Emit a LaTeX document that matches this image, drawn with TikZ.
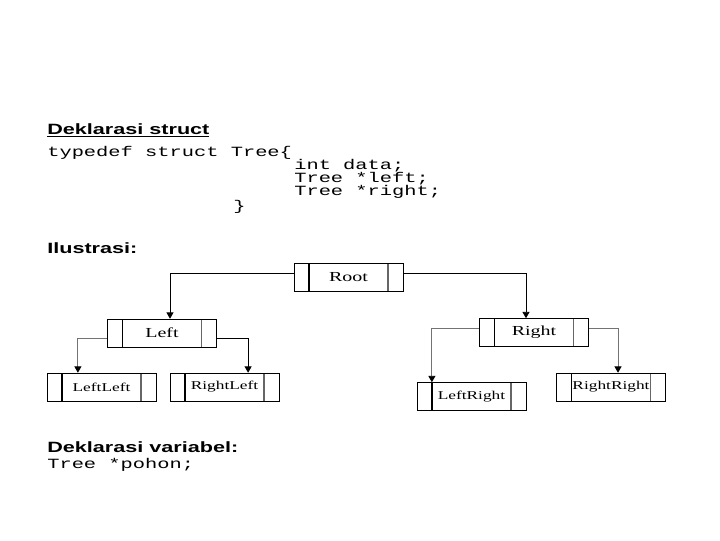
\documentclass[tikz,border=0pt]{standalone}
\usepackage{fontspec}
\setmainfont{Liberation Serif}[FakeStretch=1.45]
\newfontfamily\headfont{Liberation Sans}[FakeStretch=1.45]
\newfontfamily\codefont{Liberation Mono}[FakeStretch=1.45]
\usetikzlibrary{arrows.meta}

\begin{document}
\begin{tikzpicture}[x=0.025cm,y=-0.025cm]

\def\boxw{2.725}
\def\boxh{0.7}
\def\cell{0.375} % <-- width of the pointer cells

\tikzset{
    treebox/.style={
        draw,
        minimum width=\boxw cm,
        minimum height=\boxh cm,
        inner sep=0pt,
        font=\fontsize{9.8}{10}\selectfont,
        path picture={
            \draw[line width=0.9pt]
                ([xshift=\cell cm]path picture bounding box.north west)
                -- ([xshift=\cell cm]path picture bounding box.south west);
            \draw[line width=1.3pt, black!60]
                ([xshift=-\cell cm]path picture bounding box.north east)
                -- ([xshift=-\cell cm]path picture bounding box.south east);
        }
    },
    leafbox/.style={treebox, font=\fontsize{8.5}{9}\selectfont},
    heading/.style={anchor=base west, inner sep=0pt,
        font=\headfont\bfseries\fontsize{10.6}{12}\selectfont},
    codeline/.style={anchor=base west, inner sep=0pt,
        font=\codefont\fontsize{10}{12}\selectfont},
    link/.style={-{Triangle[width=5pt,length=4.5pt,color=black]}, line width=0.6pt},
    greylink/.style={link, draw=black!55}
}

\useasboundingbox (0,0) rectangle (720,540);

% Struct declaration
\node[heading] (hstruct) at (47,134) {\underline{Deklarasi struct}};

\foreach \n/\x/\y/\txt in {c1/47/156/typedef struct Tree\{,
                           c2/294/169/int data;,
                           c3/294/182/Tree *left;,
                           c4/294/195/Tree *right;,
                           c5/233/210/\}}{
    \node[codeline] (\n) at (\x,\y) {\txt};
}

% Illustration
\node[heading] (hillus) at (47,253) {Ilustrasi:};

\node[treebox] (root) at (348.5,277) {Root};

\foreach \n/\x/\y/\txt in {left/162/333/Left, right/534/332.5/Right}{
    \node[treebox] (\n) at (\x,\y) {\txt};
}

\foreach \n/\x/\y/\txt in {leftleft/101.5/387/LeftLeft,
                           rightleft/224.5/387/RightLeft,
                           leftright/471.5/396.5/LeftRight,
                           rightright/611/387/RightRight}{
    \node[leafbox] (\n) at (\x,\y) {\txt};
}

% Pointers
\draw[link] ([yshift=0.1cm]root.west) -| ([xshift=0.2cm]left.north);
\draw[link] ([yshift=0.1cm]root.east) -| ([xshift=-0.2cm]right.north);
\draw[greylink] ([yshift=-0.125cm]left.west) -| ([xshift=-0.59cm]leftleft.north);
\draw[link] ([yshift=-0.125cm]left.east) -| ([xshift=0.59cm]rightleft.north);
\draw[greylink] ([yshift=0.11cm]right.west) -| ([xshift=-0.99cm]leftright.north);
\draw[greylink] ([yshift=0.11cm]right.east) -| ([xshift=0.175cm]rightright.north);

% Variable declaration
\node[heading] (hvar) at (47,452) {Deklarasi variabel:};
\node[codeline] (pohon) at (47,468) {Tree *pohon;};

\end{tikzpicture}
\end{document}
